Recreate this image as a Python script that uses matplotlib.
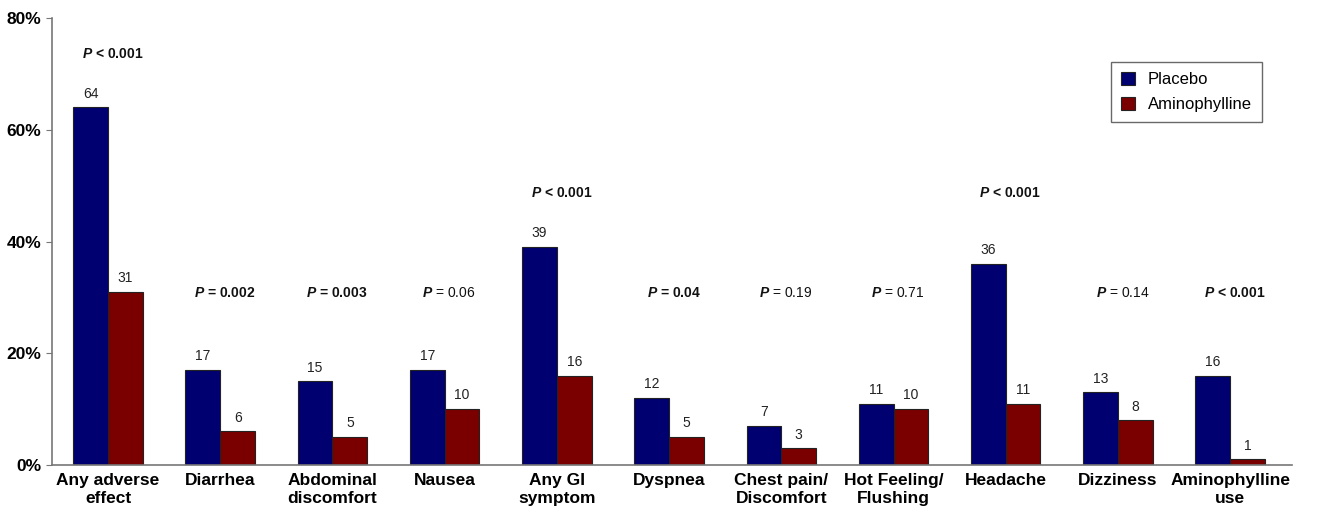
import numpy as np
from matplotlib import pyplot as plt

plt.rcParams['font.family'] = ['Liberation Sans', 'DejaVu Sans']
plt.rcParams['mathtext.fontset'] = 'custom'
plt.rcParams['mathtext.rm'] = 'Liberation Sans'
plt.rcParams['mathtext.it'] = 'Liberation Sans:italic'
plt.rcParams['mathtext.bf'] = 'Liberation Sans:bold'
plt.rcParams['mathtext.bfit'] = 'Liberation Sans:italic:bold'

categories = ["Any adverse\neffect", "Diarrhea", "Abdominal\ndiscomfort", "Nausea",
              "Any GI\nsymptom", "Dyspnea", "Chest pain/\nDiscomfort", "Hot Feeling/\nFlushing",
              "Headache", "Dizziness", "Aminophylline\nuse"]
placebo = [64, 17, 15, 17, 39, 12, 7, 11, 36, 13, 16]
aminophylline = [31, 6, 5, 10, 16, 5, 3, 10, 11, 8, 1]
p_ops = ["<", "=", "=", "=", "<", "=", "=", "=", "<", "=", "<"]
p_vals = ["0.001", "0.002", "0.003", "0.06", "0.001", "0.04", "0.19", "0.71", "0.001", "0.14", "0.001"]
p_bold = [True, True, True, False, True, True, False, False, True, False, True]
p_height = [73.5, 30.8, 30.8, 30.8, 48.7, 30.8, 30.8, 30.8, 48.7, 30.8, 30.8]

navy = "#000070"
darkred = "#7a0000"

fig = plt.figure(figsize=(13.19, 5.09), dpi=100)
ax = fig.add_axes([0.0394, 0.0864, 0.94, 0.8782])

x = np.arange(len(categories))
w = 0.31
ax.bar(x - w/2, placebo, w, color=navy, edgecolor="#222222", linewidth=0.8, label="Placebo")
ax.bar(x + w/2, aminophylline, w, color=darkred, edgecolor="#222222", linewidth=0.8, label="Aminophylline")

for xi, v in zip(x, placebo):
    ax.text(xi - w/2, v + 1.2, str(v), ha="center", va="bottom", fontsize=10, color="#222222")
for xi, v in zip(x, aminophylline):
    ax.text(xi + w/2, v + 1.2, str(v), ha="center", va="bottom", fontsize=10, color="#222222")

for xi, op, pv, bold, h in zip(x, p_ops, p_vals, p_bold, p_height):
    fw = "bold" if bold else "normal"
    ax.text(xi + 0.04, h, r"$\mathbfit{P}$" + " " + op + " " + pv, ha="center", va="center",
            fontsize=10, fontweight=fw, color="#111111")

ax.set_xlim(-0.5, len(categories) - 0.5 + 0.05)
ax.set_ylim(0, 80)
ax.set_yticks([0, 20, 40, 60, 80])
ax.set_yticklabels(["0%", "20%", "40%", "60%", "80%"], fontweight="bold", fontsize=12.5)
ax.set_xticks(x)
ax.set_xticklabels(categories, fontweight="bold", fontsize=12.5)
ax.tick_params(axis="x", length=0, pad=6)
ax.tick_params(axis="y", length=4, color="#777777")
for s in ["top", "right"]:
    ax.spines[s].set_visible(False)
for s in ["left", "bottom"]:
    ax.spines[s].set_color("#777777")
    ax.spines[s].set_linewidth(1.2)

leg = ax.legend(loc="upper right", bbox_to_anchor=(0.976, 0.902), borderaxespad=0, fontsize=12,
                frameon=True, fancybox=False, edgecolor="#444444", handlelength=0.8,
                handleheight=0.8, borderpad=0.6, labelspacing=0.6)
leg.get_frame().set_linewidth(1.0)

fig.savefig("out.png", dpi=100)
